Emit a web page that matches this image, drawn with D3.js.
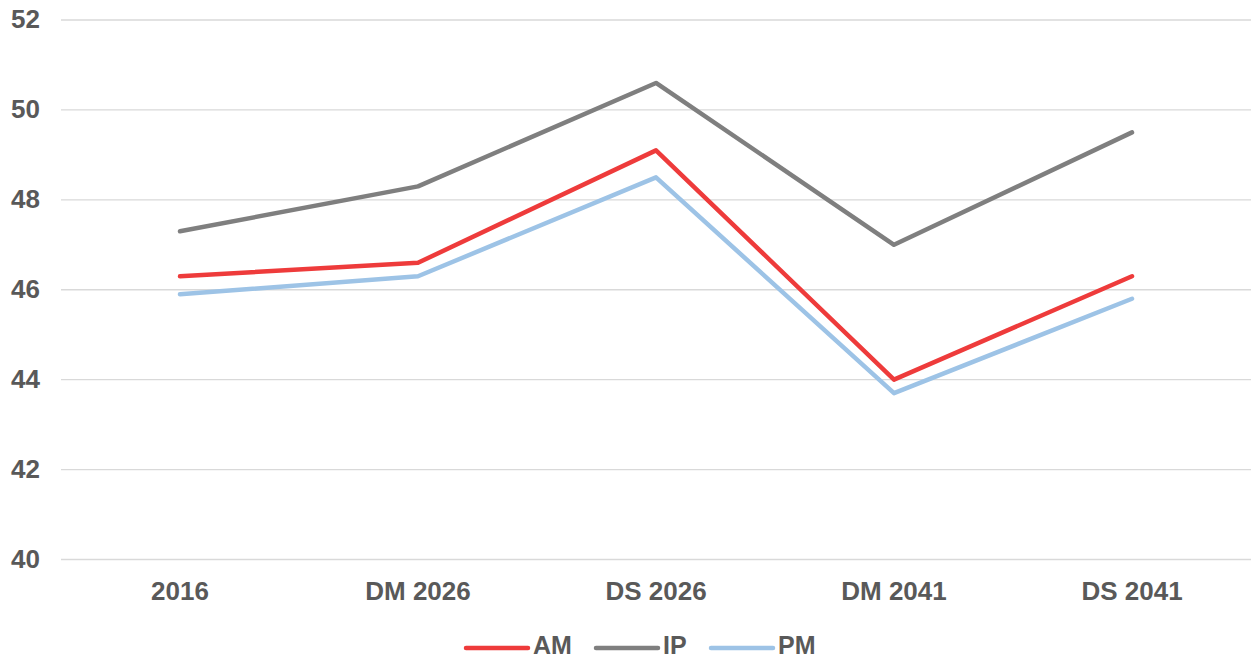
<!DOCTYPE html>
<html><head><meta charset="utf-8">
<script src="https://cdn.jsdelivr.net/npm/d3@7"></script>
<style>body{margin:0;background:#fff}svg{display:block}text{font-family:Arial,"Liberation Sans",sans-serif;font-weight:bold;fill:#595959}</style>
</head><body>
<svg id="c" width="1254" height="660"></svg>
<script>
const categories = ["2016","DM 2026","DS 2026","DM 2041","DS 2041"];
const seriesNames = ["AM","IP","PM"];
const amValues = [46.3, 46.6, 49.1, 44.0, 46.3];
const ipValues = [47.3, 48.3, 50.6, 47.0, 49.5];
const pmValues = [45.9, 46.3, 48.5, 43.7, 45.8];
const yTicks = [40,42,44,46,48,50,52];
const colors = {AM:"#EE3B3B", IP:"#7F7F7F", PM:"#9DC3E6"};
const series = [
  {name:"AM", values:amValues},
  {name:"IP", values:ipValues},
  {name:"PM", values:pmValues}
];
const svg = d3.select("#c");
const x = d3.scaleBand().domain(categories).range([61,1251]);
const y = d3.scaleLinear().domain([40,52]).range([559.5,20]);

const grid = svg.append("g");
grid.selectAll("line").data(yTicks).join("line")
  .attr("x1",61).attr("x2",1251)
  .attr("y1",d=>y(d)).attr("y2",d=>y(d))
  .attr("stroke","#D9D9D9").attr("stroke-width",1.3);

svg.append("g").selectAll("text").data(yTicks).join("text")
  .attr("x",40).attr("y",d=>y(d)+8).attr("text-anchor","end")
  .attr("font-size",26).text(d=>d);

svg.append("g").selectAll("text").data(categories).join("text")
  .attr("x",d=>x(d)+x.bandwidth()/2).attr("y",600).attr("text-anchor","middle")
  .attr("font-size",26).text(d=>d);

const line = d3.line().x((d,i)=>x(categories[i])+x.bandwidth()/2).y(d=>y(d));
svg.append("g").selectAll("path").data(series).join("path")
  .attr("d",d=>line(d.values)).attr("fill","none")
  .attr("stroke",d=>colors[d.name]).attr("stroke-width",4.5)
  .attr("stroke-linejoin","round").attr("stroke-linecap","round");

const legendX = [466, 596, 711];
const lg = svg.append("g").selectAll("g").data(seriesNames).join("g")
  .attr("transform",(d,i)=>`translate(${legendX[i]},648)`);
lg.append("line").attr("x1",0).attr("x2",62).attr("y1",0).attr("y2",0)
  .attr("stroke",d=>colors[d]).attr("stroke-width",4.5).attr("stroke-linecap","round");
lg.append("text").attr("x",67).attr("y",6).attr("font-size",25).text(d=>d);
</script>
</body></html>
